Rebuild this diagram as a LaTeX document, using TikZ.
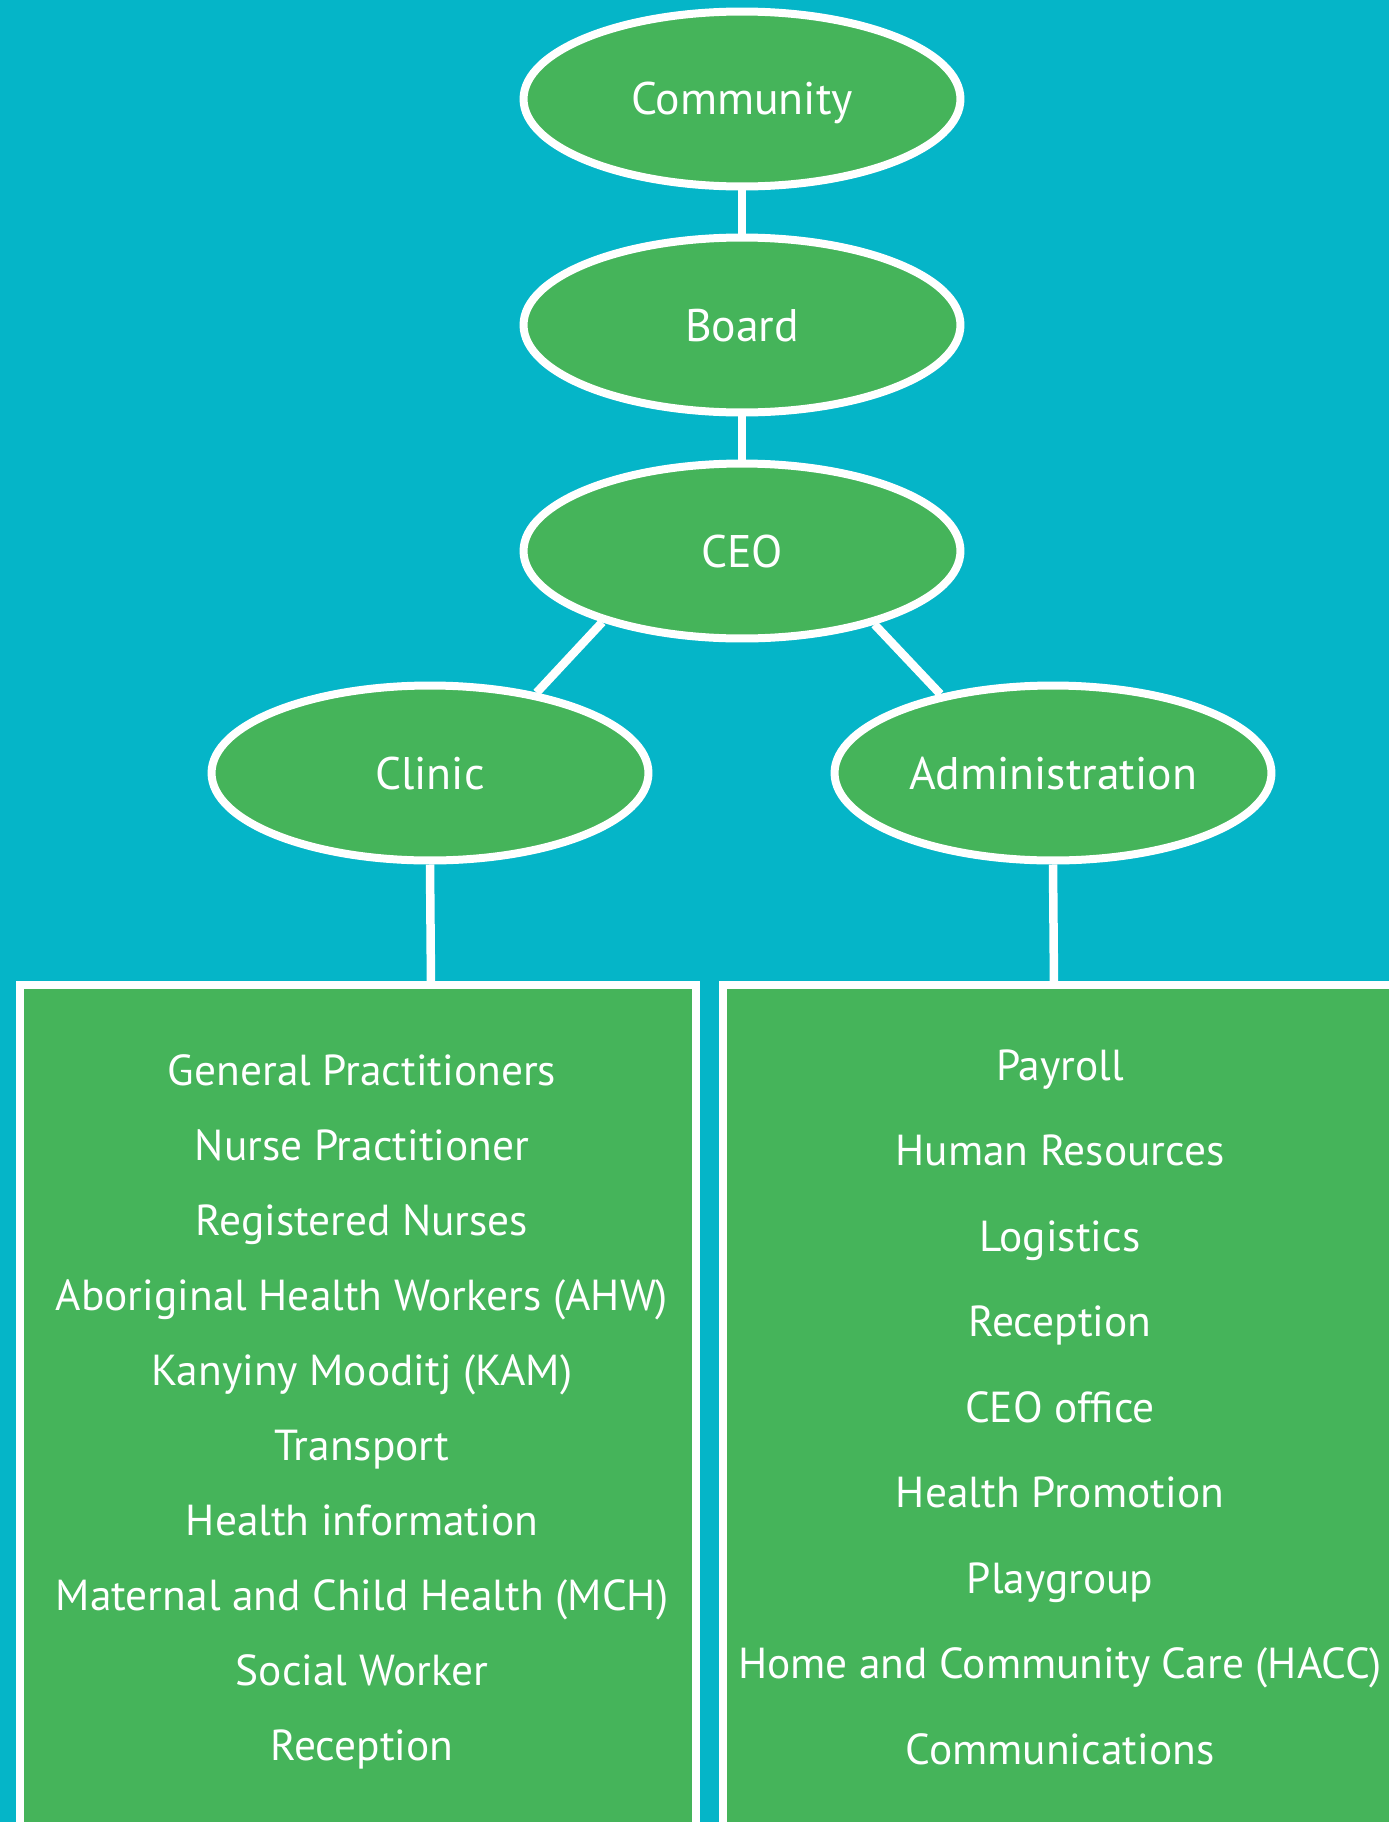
\documentclass[tikz,border=0pt]{standalone}
\usepackage{fontspec}
\setmainfont{PT Sans}
\usetikzlibrary{shapes.geometric}
\definecolor{bgteal}{RGB}{5,181,200}
\definecolor{orggreen}{RGB}{69,180,90}
\tikzset{
  unit/.style={ellipse,draw=white,fill=orggreen,line width=0.16cm,minimum width=8.74cm,minimum height=3.5cm,
    inner sep=0pt,text=white,font=\fontsize{26}{30}\selectfont,text height=0.64cm,text depth=0pt},
  link/.style={draw=white,line width=0.17cm},
  panel/.style={draw=white,fill=orggreen,line width=0.16cm},
  item/.style={text=white,font=\fontsize{24.7}{29}\selectfont,anchor=base,inner sep=0pt}
}
\begin{document}
\begin{tikzpicture}[x=0.02cm,y=-0.02cm]
    \useasboundingbox (0,0) rectangle (1389,1822);
    \clip (0,0) rectangle (1389,1822);
    \fill[bgteal] (0,0) rectangle (1389,1822);
    \draw[panel] (20,985) rectangle (696,1860);
    \draw[panel] (723,985) rectangle (1420,1860);
    \node[unit] (community) at (742,99) {Community};
    \node[unit] (board) at (742,325) {Board};
    \node[unit] (ceo) at (742,551) {CEO};
    \node[unit] (clinic) at (430,773) {Clinic};
    \node[unit] (admin) at (1053,773) {Administration};
    \coordinate (cltop) at (431,985);
    \coordinate (adtop) at (1054,985);
    \draw[link] (community.south) -- (board.north);
    \draw[link] (board.south) -- (ceo.north);
    \draw[link] (ceo.207) -- (clinic.37);
    \draw[link] (ceo.331) -- (admin.145);
    \draw[link] (clinic.south) -- (cltop);
    \draw[link] (admin.south) -- (adtop);
    \foreach \name [count=\i from 0] in {General Practitioners,Nurse Practitioner,Registered Nurses,
        Aboriginal Health Workers (AHW),Kanyiny Mooditj (KAM),Transport,Health information,
        Maternal and Child Health (MCH),Social Worker,Reception}
        \node[item] (cl\i) at (362,{1085+75*\i}) {\name};
    \foreach \name [count=\i from 0] in {Payroll,Human Resources,Logistics,Reception,CEO office,
        Health Promotion,Playgroup,Home and Community Care (HACC),Communications}
        \node[item] (ad\i) at (1060,{1080+85.5*\i}) {\name};
\end{tikzpicture}
\end{document}
